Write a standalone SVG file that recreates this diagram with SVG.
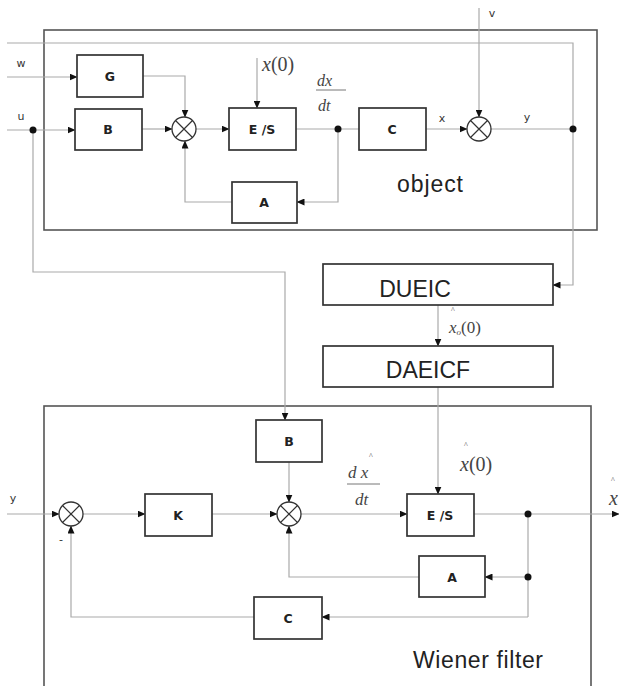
<svg xmlns="http://www.w3.org/2000/svg" width="619" height="686" viewBox="0 0 619 686">
<defs>
<marker id="ar" markerWidth="8" markerHeight="7" refX="7.5" refY="3.5" orient="auto" markerUnits="userSpaceOnUse">
<path d="M0,0 L8,3.5 L0,7 Z" fill="#111"/>
</marker>
<style>
.frame{fill:none;stroke:#555;stroke-width:1.6}
.box{fill:#fff;stroke:#333;stroke-width:1.7}
.sum{fill:#fff;stroke:#333;stroke-width:1.3}
.sumx{stroke:#333;stroke-width:1.2}
.ln{fill:none;stroke:#aaa;stroke-width:1.2}
.arr{marker-end:url(#ar)}
.dot{fill:#111}
.bl{font-family:"DejaVu Sans",sans-serif;font-weight:bold;font-size:12.5px;fill:#222;text-anchor:middle}
.big{font-family:"Liberation Sans",Arial,sans-serif;font-size:23px;fill:#222;text-anchor:middle}
.sm{font-family:"DejaVu Sans",sans-serif;font-size:11px;fill:#333;text-anchor:middle}
.mi{font-family:"Liberation Serif","Times New Roman",serif;font-style:italic;fill:#444}
.mr{font-family:"Liberation Serif","Times New Roman",serif;fill:#444}
</style>
</defs>
<rect width="619" height="686" fill="#fff"/>

<g id="frames">
<rect id="object-frame" class="frame" x="44" y="30" width="553" height="200"/>
<rect id="wiener-frame" class="frame" x="44" y="406" width="547" height="300"/>
<text class="big" x="430" y="192" font-size="21" textLength="66">object</text>
<text class="big" x="478" y="668" font-size="22" textLength="130">Wiener filter</text>
</g>

<g id="connectors">
<path class="ln arr" d="M7,77 H77"/>
<path class="ln arr" d="M7,130 H75"/>
<path class="ln arr" d="M33,130 V272 H285 V420"/>
<path class="ln arr" d="M143,76 H185 V117"/>
<path class="ln arr" d="M142,129 H172"/>
<path class="ln arr" d="M196,129 H229"/>
<path class="ln arr" d="M257,58 V108"/>
<path class="ln" d="M296,129 H359"/>
<path class="ln arr" d="M338,129 V202 H297"/>
<path class="ln arr" d="M232,202 H185 V141"/>
<path class="ln arr" d="M426,129 H467"/>
<path class="ln arr" d="M479,8 V117"/>
<path class="ln" d="M491,129 H573"/>
<path class="ln arr" d="M7,43 H573 V285 H553"/>
<path class="ln arr" d="M438,305 V346"/>
<path class="ln arr" d="M438,387 V494"/>
<path class="ln arr" d="M7,514 H59"/>
<path class="ln arr" d="M83,514 H145"/>
<path class="ln arr" d="M212,514 H277"/>
<path class="ln arr" d="M289,462 V502"/>
<path class="ln arr" d="M301,514 H407"/>
<path class="ln arr" d="M474,514 H619"/>
<path class="ln" d="M528,514 V617"/>
<path class="ln arr" d="M528,577 H485"/>
<path class="ln arr" d="M419,577 H289 V526"/>
<path class="ln arr" d="M528,617 H322"/>
<path class="ln arr" d="M254,617 H71 V526"/>
<circle class="dot" cx="33" cy="130" r="3.5"/>
<circle class="dot" cx="338" cy="129" r="3.5"/>
<circle class="dot" cx="573" cy="129" r="3.5"/>
<circle class="dot" cx="528" cy="514" r="3.5"/>
<circle class="dot" cx="528" cy="577" r="3.5"/>
</g>

<g id="G"><rect class="box" x="77" y="55" width="66" height="42"/><text class="bl" x="110" y="81">G</text></g>
<g id="B1"><rect class="box" x="75" y="109" width="67" height="41"/><text class="bl" x="108" y="134">B</text></g>
<g id="S1"><circle class="sum" cx="184" cy="129" r="12"/><path class="sumx" d="M175.5,120.5 L192.5,137.5 M192.5,120.5 L175.5,137.5"/></g>
<g id="ES1"><rect class="box" x="229" y="108" width="67" height="42"/><text class="bl" x="262" y="134">E /S</text></g>
<g id="A1"><rect class="box" x="232" y="182" width="65" height="41"/><text class="bl" x="264" y="207">A</text></g>
<g id="C1"><rect class="box" x="359" y="108" width="67" height="42"/><text class="bl" x="392" y="134">C</text></g>
<g id="S2"><circle class="sum" cx="479" cy="129" r="12"/><path class="sumx" d="M470.5,120.5 L487.5,137.5 M487.5,120.5 L470.5,137.5"/></g>
<g id="DUEIC"><rect class="box" x="323" y="264" width="230" height="41"/><text class="big" x="415" y="297">DUEIC</text></g>
<g id="DAEICF"><rect class="box" x="323" y="346" width="230" height="41"/><text class="big" x="428" y="378">DAEICF</text></g>
<g id="B2"><rect class="box" x="256" y="420" width="66" height="42"/><text class="bl" x="289" y="446">B</text></g>
<g id="S3"><circle class="sum" cx="71" cy="514" r="12"/><path class="sumx" d="M62.5,505.5 L79.5,522.5 M79.5,505.5 L62.5,522.5"/></g>
<g id="K"><rect class="box" x="145" y="494" width="67" height="42"/><text class="bl" x="178" y="520">K</text></g>
<g id="S4"><circle class="sum" cx="289" cy="514" r="12"/><path class="sumx" d="M280.5,505.5 L297.5,522.5 M297.5,505.5 L280.5,522.5"/></g>
<g id="ES2"><rect class="box" x="407" y="494" width="67" height="42"/><text class="bl" x="440" y="520">E /S</text></g>
<g id="A2"><rect class="box" x="419" y="556" width="66" height="41"/><text class="bl" x="452" y="582">A</text></g>
<g id="C2"><rect class="box" x="254" y="597" width="68" height="42"/><text class="bl" x="288" y="623">C</text></g>

<g id="labels">
<text class="sm" x="21" y="67">w</text>
<text class="sm" x="21" y="120">u</text>
<text class="sm" x="492" y="17">v</text>
<text class="sm" x="442" y="122">x</text>
<text class="sm" x="527" y="121">y</text>
<text class="sm" x="13" y="502">y</text>
<text class="sm" x="61" y="543">-</text>
<text class="mi" x="262" y="71" font-size="20">x<tspan class="mr" font-style="normal">(0)</tspan></text>
<text class="mi" x="317" y="86" font-size="16">dx</text>
<line x1="316" y1="90" x2="346" y2="90" stroke="#777" stroke-width="1"/>
<text class="mi" x="318" y="111" font-size="16">dt</text>
<text class="mi" x="449" y="333" font-size="17">x<tspan font-size="9" dy="2">o</tspan><tspan class="mr" font-style="normal" dy="-2">(0)</tspan></text>
<text class="mr" x="451" y="313" font-size="8">^</text>
<text class="mi" x="348" y="478" font-size="17">d x</text>
<text class="mr" x="369" y="459" font-size="8">^</text>
<line x1="347" y1="484" x2="380" y2="484" stroke="#777" stroke-width="1"/>
<text class="mi" x="355" y="505" font-size="17">dt</text>
<text class="mi" x="460" y="471" font-size="20">x<tspan class="mr" font-style="normal">(0)</tspan></text>
<text class="mr" x="464" y="448" font-size="8">^</text>
<text class="mi" x="609" y="505" font-size="20">x</text>
<text class="mr" x="611" y="483" font-size="8">^</text>
</g>
</svg>
